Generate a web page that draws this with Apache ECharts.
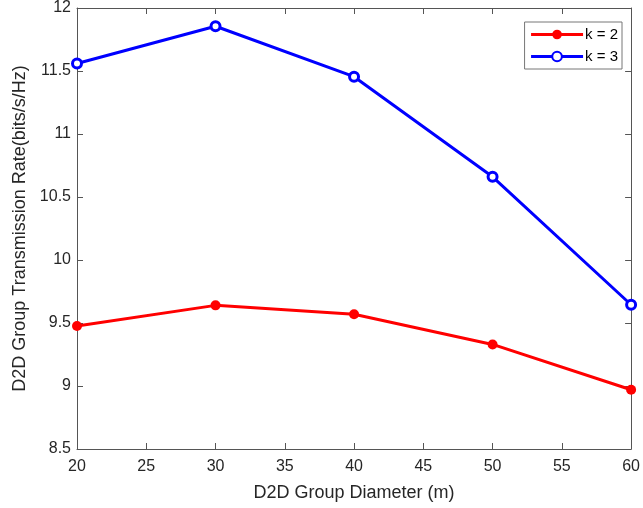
<!DOCTYPE html>
<html><head><meta charset="utf-8">
<script src="https://cdn.jsdelivr.net/npm/echarts@6/dist/echarts.min.js"></script>
<style>html,body{margin:0;padding:0;background:#fff}#c{width:643px;height:508px}</style>
</head><body><div id="c"></div>
<script>
var diameters = [20, 30, 40, 50, 60];
var k2 = [9.476, 9.64, 9.57, 9.33, 8.97];
var k3 = [11.56, 11.855, 11.455, 10.66, 9.645];
var seriesNames = ['k = 2', 'k = 3'];
var xTickInterval = 5, yTickInterval = 0.5;

var chart = echarts.init(document.getElementById('c'));
var axisCol = '#555';
var font = 'Liberation Sans, Arial, sans-serif';
function xAx(pos, show) {
  return {type:'value', position:pos, min:20, max:60, interval:xTickInterval,
    axisLine:{show:true, onZero:false, lineStyle:{color:axisCol, width:1}},
    axisTick:{show:true, inside:true, length:6, lineStyle:{color:axisCol}},
    axisLabel:{show:show, color:'#262626', fontSize:16, fontFamily:font, margin:10},
    splitLine:{show:false},
    name: show ? 'D2D Group Diameter (m)' : '', nameLocation:'middle', nameGap:35,
    nameTextStyle:{color:'#262626', fontSize:18, fontFamily:font}};
}
function yAx(pos, show) {
  return {type:'value', position:pos, min:8.5, max:12, interval:yTickInterval,
    axisLine:{show:true, onZero:false, lineStyle:{color:axisCol, width:1}},
    axisTick:{show:true, inside:true, length:6, lineStyle:{color:axisCol}},
    axisLabel:{show:show, color:'#262626', fontSize:16, fontFamily:font, margin:6},
    splitLine:{show:false},
    name: show ? 'D2D Group Transmission Rate(bits/s/Hz)' : '', nameLocation:'middle', nameGap:47,
    nameTextStyle:{color:'#262626', fontSize:18, fontFamily:font}};
}
chart.setOption({
  animation:false,
  grid:{left:77, right:8, top:8, bottom:59, containLabel:false},
  xAxis:[xAx('bottom', true), xAx('top', false)],
  yAxis:[yAx('left', true), yAx('right', false)],
  legend:{right:21, top:22, orient:'vertical', itemWidth:52, itemHeight:12, itemGap:7,
    borderColor:'#777', borderWidth:1, borderRadius:0, padding:[5,4,5,5], backgroundColor:'#fff',
    textStyle:{color:'#000', fontSize:15, fontFamily:font, padding:[0,0,0,-3]},
    lineStyle:{width:3},
    data:seriesNames},
  series:[
    {name:seriesNames[0], type:'line', data:diameters.map(function(d,i){return [d,k2[i]];}),
     symbol:'circle', symbolSize:10, lineStyle:{color:'#ff0000', width:3},
     itemStyle:{color:'#ff0000'}, z:3},
    {name:seriesNames[1], type:'line', data:diameters.map(function(d,i){return [d,k3[i]];}),
     symbol:'circle', symbolSize:9, lineStyle:{color:'#0000ff', width:3},
     itemStyle:{color:'#ffffff', borderColor:'#0000ff', borderWidth:3}, z:3}
  ]
});
</script></body></html>
